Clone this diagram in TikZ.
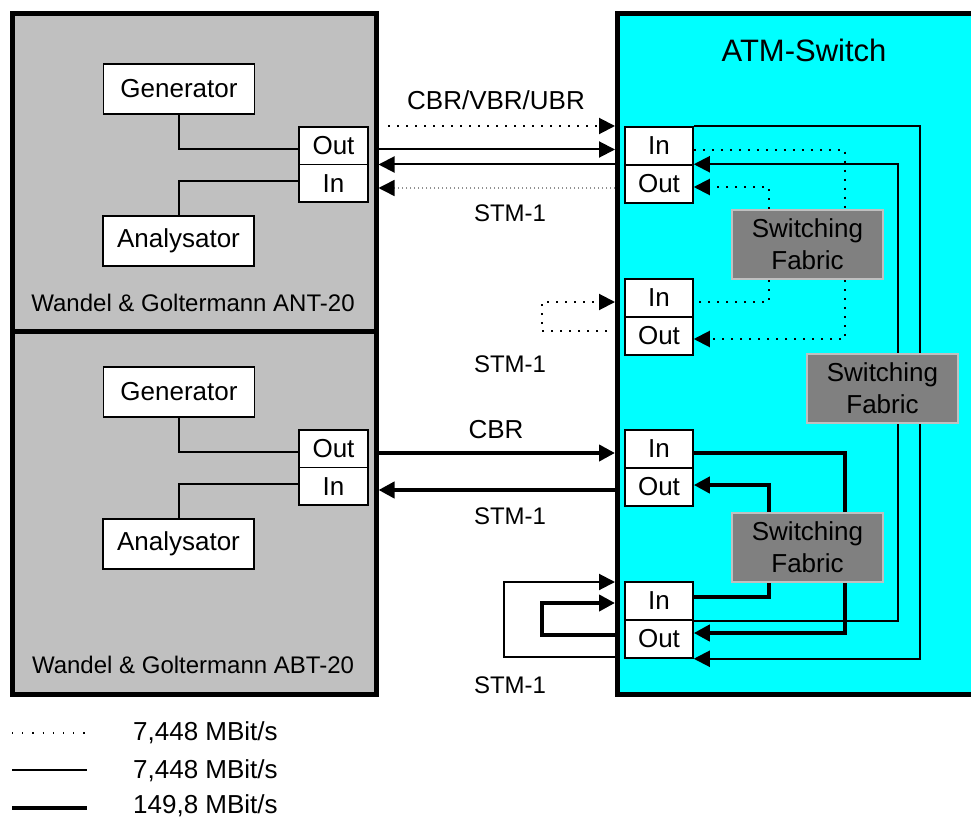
\documentclass[tikz,border=0pt]{standalone}
\usepackage{fontspec}
\setmainfont{Liberation Sans}
\usetikzlibrary{arrows.meta}
\pgfdeclarelayer{back}
\pgfdeclarelayer{lines}
\pgfsetlayers{back,lines,main}
\definecolor{boxgray}{HTML}{C0C0C0}
\definecolor{fabgray}{HTML}{808080}
\definecolor{atmcyan}{HTML}{00FFFF}
\definecolor{dotgray}{HTML}{909090}
\newcommand{\fs}[1]{\fontsize{#1}{#1}\selectfont}
\tikzset{
  outerbox/.style={draw, line width=5pt, inner sep=0pt},
  wbox/.style={draw, fill=white, line width=1.5pt, inner sep=0pt, font=\fs{26}},
  unit/.style={wbox, minimum width=151pt, minimum height=50pt},
  lport/.style={wbox, minimum width=69pt, minimum height=37.5pt},
  rport/.style={wbox, minimum width=68pt, minimum height=38pt},
  fabric/.style={draw=boxgray, fill=fabgray, line width=2pt, minimum width=151pt, minimum height=69pt, align=center, inner sep=0pt, font=\fontsize{26}{32}\selectfont},
  thinl/.style={line width=2pt},
  thickl/.style={line width=4pt},
  dotl/.style={line width=2pt, dash pattern=on 2pt off 7pt},
  grdotl/.style={line width=1.5pt, draw=dotgray, dash pattern=on 1.5pt off 2.5pt},
  arr/.style={-{Triangle[length=16pt,width=16pt,black]}},
  lbl/.style={font=\fs{26}, inner sep=0pt},
  slbl/.style={font=\fs{24}, inner sep=0pt},
}
\begin{document}
\begin{tikzpicture}[x=1pt,y=-1pt]
\useasboundingbox (0,0) rectangle (971,818);

% outer boxes
\begin{pgfonlayer}{back}
\fill[white] (0,0) rectangle (971,818);
\node[outerbox, fill=boxgray, minimum width=364pt, minimum height=318pt] (ant) at (194,172.5) {};
\node[outerbox, fill=boxgray, minimum width=364pt, minimum height=363pt] (abt) at (194,513) {};
\begin{scope}
\clip (0,0) rectangle (971,818);
\node[outerbox, fill=atmcyan, minimum width=380pt, minimum height=681pt] (atm) at (807.5,354) {};
\end{scope}
\end{pgfonlayer}

\node[font=\fs{31}, inner sep=0pt] (atmt) at (804,50) {ATM-Switch};
\node[slbl] (antt) at (193,303) {Wandel \& Goltermann ANT-20};
\node[slbl] (abtt) at (193,665) {Wandel \& Goltermann ABT-20};

% ANT-20
\node[unit] (gen1) at (179,89) {Generator};
\node[unit] (ana1) at (178.5,241) {Analysator};
\node[lport] (out1L) at (333.5,145.75) {Out};
\node[lport] (in1L) at (333.5,183.25) {In};
% ABT-20
\node[unit] (gen2) at (179,392) {Generator};
\node[unit] (ana2) at (178.5,544) {Analysator};
\node[lport] (out2L) at (333.5,448.75) {Out};
\node[lport] (in2L) at (333.5,486.25) {In};

% switch ports
\node[rport] (in1) at (659,146) {In};
\node[rport] (out1) at (659,184) {Out};
\node[rport] (in2) at (659,298) {In};
\node[rport] (out2) at (659,336) {Out};
\node[rport] (in3) at (659,449) {In};
\node[rport] (out3) at (659,487) {Out};
\node[rport] (in4) at (659,601) {In};
\node[rport] (out4) at (659,639) {Out};

% fabrics
\node[fabric] (sf1) at (807.5,244.5) {Switching\\Fabric};
\node[fabric] (sf2) at (882.5,388.5) {Switching\\Fabric};
\node[fabric] (sf3) at (807.5,547.5) {Switching\\Fabric};

% labels
\node[lbl] (l1) at (496,100) {CBR/VBR/UBR};
\node[slbl] (l2) at (510,213) {STM-1};
\node[slbl] (l3) at (510,364) {STM-1};
\node[lbl] (l4) at (496,430) {CBR};
\node[slbl] (l5) at (510,516) {STM-1};
\node[slbl] (l6) at (510,685) {STM-1};

% helper coordinates
\coordinate (ya) at (0,126);
\coordinate (yb) at (0,149.5);
\coordinate (yc) at (0,164.5);
\coordinate (yd) at (0,188);
\coordinate (ye) at (0,302);
\coordinate (yf) at (0,453);
\coordinate (yg) at (0,490);
\coordinate (d1) at (388,126);
\coordinate (d2a) at (607,331);
\coordinate (d2b) at (542,331);
\coordinate (t4a) at (504,657);
\coordinate (t4b) at (504,582);
\coordinate (k4a) at (542,635);
\coordinate (k4b) at (542,603);
\coordinate (x769) at (769,0);
\coordinate (x845) at (845,0);
\coordinate (x898) at (898,0);
\coordinate (x920) at (920,0);

\begin{pgfonlayer}{lines}
% inside tester boxes
\draw[thinl] (gen1.south) |- ([yshift=-3pt]out1L.west);
\draw[thinl] ([yshift=2pt]in1L.west) -| (ana1.north);
\draw[thinl] (gen2.south) |- ([yshift=-3pt]out2L.west);
\draw[thinl] ([yshift=2pt]in2L.west) -| (ana2.north);

% between tester and switch
\draw[dotl, arr] (d1) -- (atm.west |- ya);
\draw[thinl, arr] (ant.east |- yb) -- (atm.west |- yb);
\draw[thinl, arr] (atm.west |- yc) -- (ant.east |- yc);
\draw[grdotl, arr] (atm.west |- yd) -- (ant.east |- yd);
\draw[dotl, arr] (d2a) -- (d2b) |- (atm.west |- ye);
\draw[thickl, arr] (abt.east |- yf) -- (atm.west |- yf);
\draw[thickl, arr] (atm.west |- yg) -- (abt.east |- yg);
\draw[thinl, arr] (atm.west |- t4a) -- (t4a) -- (t4b) -- (atm.west |- t4b);
\draw[thickl, arr] (atm.west |- k4a) -- (k4a) -- (k4b) -- (atm.west |- k4b);

% inside switch: thin
\draw[thinl, arr] (in1.north east) -| (x920 |- out4.south east) -- (out4.south east);
\draw[thinl, arr] (in4.south east) -| (x898 |- out1.north east) -- (out1.north east);
% dotted
\draw[dotl] ([yshift=-4pt]in1.east) -| (x845 |- sf1.north);
\draw[dotl, arr] (x845 |- sf1.south) |- ([yshift=-3pt]out2.east);
\draw[dotl, arr] (x769 |- sf1.north) |- ([yshift=-3pt]out1.east);
\draw[dotl] (x769 |- sf1.south) |- ([yshift=-4pt]in2.east);
% thick
\draw[thickl] ([yshift=-4pt]in3.east) -| (x845 |- sf3.north);
\draw[thickl, arr] (x769 |- sf3.north) |- ([yshift=2pt]out3.east);
\draw[thickl] (x769 |- sf3.south) |- ([yshift=4pt]in4.east);
\draw[thickl, arr] (x845 |- sf3.south) |- ([yshift=6pt]out4.east);
\end{pgfonlayer}

% legend
\coordinate (la1) at (12,733);
\coordinate (la2) at (86,733);
\coordinate (lb1) at (12,770);
\coordinate (lb2) at (87,770);
\coordinate (lc1) at (12,808);
\coordinate (lc2) at (87,808);
\draw[line width=1.2pt, dash pattern=on 1.2pt off 9pt] (la1) -- (la2);
\draw[thinl] (lb1) -- (lb2);
\draw[thickl] (lc1) -- (lc2);
\node[lbl, anchor=west] (lt1) at (133,733) {7,448 MBit/s};
\node[lbl, anchor=west] (lt2) at (133,771) {7,448 MBit/s};
\node[lbl, anchor=west] (lt3) at (133,806) {149,8 MBit/s};
\end{tikzpicture}
\end{document}
